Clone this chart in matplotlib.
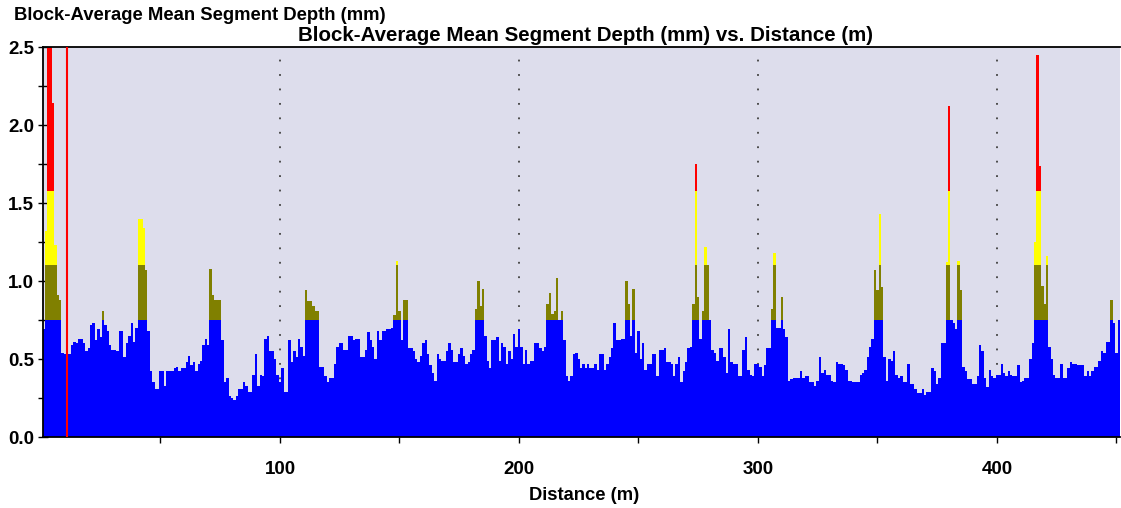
import numpy as np
import matplotlib
matplotlib.use("Agg")
import matplotlib.pyplot as plt
from matplotlib.ticker import MultipleLocator, FormatStrFormatter

# ---- data (block-average mean segment depth, mm, per 1 m block) ----
depth = [
    0.69, 1.32, 2.70, 2.60, 2.14, 1.23, 0.91, 0.88, 0.54, 0.53,   # 1-10
    0.55, 0.53, 0.59, 0.61, 0.60, 0.63, 0.63, 0.60, 0.55, 0.57,   # 11-20
    0.72, 0.73, 0.62, 0.69, 0.64, 0.81, 0.72, 0.68, 0.59, 0.56,   # 21-30
    0.56, 0.55, 0.68, 0.68, 0.51, 0.60, 0.65, 0.73, 0.61, 0.70,   # 31-40
    1.40, 1.40, 1.34, 1.07, 0.68, 0.42, 0.35, 0.31, 0.31, 0.42,   # 41-50
    0.42, 0.33, 0.42, 0.42, 0.42, 0.44, 0.45, 0.42, 0.44, 0.44,   # 51-60
    0.48, 0.52, 0.46, 0.48, 0.42, 0.47, 0.49, 0.59, 0.63, 0.59,   # 61-70
    1.08, 0.91, 0.88, 0.88, 0.88, 0.62, 0.35, 0.38, 0.26, 0.25,   # 71-80
    0.24, 0.26, 0.31, 0.31, 0.35, 0.33, 0.29, 0.29, 0.40, 0.53,   # 81-90
    0.33, 0.40, 0.39, 0.63, 0.65, 0.55, 0.55, 0.50, 0.40, 0.35,   # 91-100
    0.44, 0.29, 0.29, 0.62, 0.48, 0.55, 0.51, 0.63, 0.58, 0.52,   # 101-110
    0.94, 0.87, 0.87, 0.84, 0.81, 0.81, 0.45, 0.45, 0.39, 0.35,   # 111-120
    0.38, 0.38, 0.47, 0.58, 0.60, 0.60, 0.56, 0.56, 0.65, 0.65,   # 121-130
    0.62, 0.63, 0.63, 0.51, 0.51, 0.56, 0.67, 0.62, 0.58, 0.50,   # 131-140
    0.68, 0.62, 0.68, 0.68, 0.69, 0.69, 0.70, 0.78, 1.13, 0.81,   # 141-150
    0.62, 0.88, 0.88, 0.57, 0.57, 0.55, 0.50, 0.48, 0.52, 0.60,   # 151-160
    0.62, 0.53, 0.46, 0.41, 0.36, 0.53, 0.50, 0.49, 0.49, 0.55,   # 161-170
    0.60, 0.56, 0.48, 0.48, 0.53, 0.57, 0.52, 0.47, 0.48, 0.53,   # 171-180
    0.56, 0.82, 1.00, 0.84, 0.95, 0.65, 0.49, 0.44, 0.62, 0.62,   # 181-190
    0.64, 0.49, 0.60, 0.58, 0.47, 0.55, 0.50, 0.66, 0.58, 0.69,   # 191-200
    0.58, 0.47, 0.56, 0.47, 0.49, 0.49, 0.60, 0.60, 0.57, 0.55,   # 201-210
    0.58, 0.85, 0.92, 0.79, 0.81, 1.02, 0.75, 0.81, 0.62, 0.39,   # 211-220
    0.36, 0.39, 0.53, 0.54, 0.50, 0.44, 0.47, 0.44, 0.47, 0.44,   # 221-230
    0.44, 0.47, 0.43, 0.53, 0.53, 0.43, 0.47, 0.51, 0.57, 0.73,   # 231-240
    0.62, 0.62, 0.63, 0.63, 1.00, 0.85, 0.65, 0.95, 0.54, 0.68,   # 241-250
    0.50, 0.60, 0.43, 0.47, 0.47, 0.53, 0.53, 0.39, 0.56, 0.56,   # 251-260
    0.57, 0.48, 0.48, 0.47, 0.39, 0.47, 0.51, 0.35, 0.42, 0.48,   # 261-270
    0.57, 0.58, 0.85, 1.75, 0.90, 0.63, 0.81, 1.22, 1.10, 0.75,   # 271-280
    0.56, 0.54, 0.49, 0.57, 0.57, 0.51, 0.41, 0.69, 0.48, 0.47,   # 281-290
    0.47, 0.39, 0.39, 0.56, 0.64, 0.43, 0.40, 0.39, 0.47, 0.47,   # 291-300
    0.45, 0.39, 0.46, 0.57, 0.57, 0.82, 1.18, 0.70, 0.70, 0.90,   # 301-310
    0.69, 0.64, 0.36, 0.37, 0.38, 0.38, 0.38, 0.42, 0.38, 0.39,   # 311-320
    0.39, 0.35, 0.35, 0.33, 0.36, 0.51, 0.41, 0.43, 0.40, 0.40,   # 321-330
    0.36, 0.35, 0.48, 0.47, 0.47, 0.46, 0.43, 0.36, 0.36, 0.35,   # 331-340
    0.35, 0.35, 0.40, 0.41, 0.43, 0.51, 0.58, 0.63, 1.07, 0.94,   # 341-350
    1.43, 0.96, 0.51, 0.36, 0.50, 0.49, 0.55, 0.40, 0.38, 0.39,   # 351-360
    0.35, 0.35, 0.47, 0.34, 0.34, 0.31, 0.28, 0.28, 0.31, 0.27,   # 361-370
    0.29, 0.29, 0.44, 0.42, 0.34, 0.38, 0.60, 0.60, 1.12, 2.12,   # 371-380
    0.75, 0.73, 0.69, 1.13, 0.94, 0.45, 0.42, 0.37, 0.37, 0.34,   # 381-390
    0.34, 0.39, 0.59, 0.55, 0.38, 0.32, 0.43, 0.39, 0.38, 0.40,   # 391-400
    0.40, 0.47, 0.41, 0.39, 0.42, 0.40, 0.39, 0.39, 0.46, 0.35,   # 401-410
    0.36, 0.38, 0.38, 0.50, 0.60, 1.25, 2.45, 1.74, 0.97, 0.85,   # 411-420
    1.16, 0.58, 0.50, 0.40, 0.38, 0.38, 0.47, 0.38, 0.38, 0.44,   # 421-430
    0.48, 0.47, 0.47, 0.46, 0.46, 0.46, 0.39, 0.42, 0.39, 0.42,   # 431-440
    0.45, 0.45, 0.49, 0.55, 0.54, 0.61, 0.61, 0.88, 0.73, 0.54,   # 441-450
    0.75,                                                         # 451
]
band_edges = [0.0, 0.75, 1.10, 1.58, 10.0]
band_colors = ["#0000FF", "#808000", "#FFFF00", "#FF0000"]
marker_distance = 10.9
grid_distances = [100, 200, 300, 400]
title_text = "Block-Average Mean Segment Depth (mm) vs. Distance (m)"
corner_text = "Block-Average Mean Segment Depth (mm)"
xlabel_text = "Distance (m)"

plt.rcParams["font.family"] = ["Liberation Sans", "DejaVu Sans"]

W, H = 1121, 508
fig = plt.figure(figsize=(W / 100, H / 100), dpi=100)
ax = fig.add_axes([43 / W, (H - 437) / H, 1077 / W, 390 / H])
ax.set_facecolor("#DDDDEC")

d = np.array(depth)
distance = np.arange(1, len(d) + 1)
edges = np.concatenate([distance - 0.5, [distance[-1] + 0.5]])

for lo, hi, c in zip(band_edges[:-1], band_edges[1:], band_colors):
    vals = np.clip(d, lo, hi)
    ax.stairs(vals, edges, baseline=lo, fill=True, color=c, linewidth=0, zorder=2)

for g in grid_distances:
    ax.axvline(g, color="#404040", linestyle=(0, (1, 7)), linewidth=1.3, zorder=1)

ax.axvline(marker_distance, color="#FF0000", linewidth=1.5, zorder=3)

ax.set_xlim(0.84, 451.5)
ax.set_ylim(0, 2.5)

ax.xaxis.set_major_locator(MultipleLocator(100))
ax.xaxis.set_minor_locator(MultipleLocator(50))
ax.yaxis.set_major_locator(MultipleLocator(0.5))
ax.yaxis.set_minor_locator(MultipleLocator(0.25))
ax.yaxis.set_major_formatter(FormatStrFormatter("%.1f"))

ax.tick_params(axis="x", which="both", direction="out", length=4, width=1, pad=13,
               labelsize=13.5)
ax.tick_params(axis="y", which="both", direction="inout", length=7, width=1, pad=3,
               labelsize=13.5)
for lab in ax.get_xticklabels() + ax.get_yticklabels():
    lab.set_fontweight("bold")

for s in ["left", "bottom", "top"]:
    ax.spines[s].set_color("black")
    ax.spines[s].set_linewidth(1.3)
ax.spines["right"].set_visible(False)

fig.text(14 / W, 1 - 20 / H, corner_text, ha="left", va="baseline",
         fontsize=13.3, fontweight="bold")
fig.text(586 / W, 1 - 41 / H, title_text, ha="center", va="baseline",
         fontsize=14.8, fontweight="bold")
fig.text(584 / W, 1 - 500 / H, xlabel_text, ha="center", va="baseline",
         fontsize=13.2, fontweight="bold")

fig.savefig("out.png", dpi=100)
